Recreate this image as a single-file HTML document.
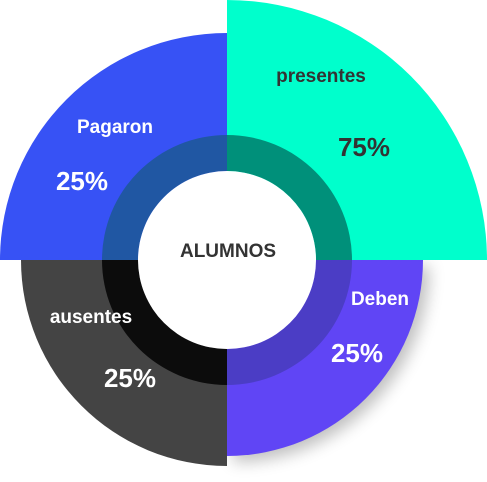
<!DOCTYPE html>
<html><head><meta charset="utf-8"><style>
html,body{margin:0;padding:0;background:#fff;width:487px;height:482px;overflow:hidden}
svg text{font-family:"Liberation Sans",sans-serif;font-weight:bold;text-anchor:middle}
</style></head><body>
<svg id="chart" width="487" height="482" viewBox="0 0 487 482">
<defs><filter id="sh" x="-20%" y="-20%" width="140%" height="140%"><feGaussianBlur stdDeviation="8"/></filter></defs>
<g id="slices"></g>
<circle cx="227" cy="260" r="89" fill="#fff"/>
<text x="228" y="257" font-size="19" fill="#333">ALUMNOS</text>
<g id="labels"></g>
</svg>
<script>
const categories=["presentes","Deben","ausentes","Pagaron"];
const values=[75,25,25,25];
const radii=[260,196,206,227];
const colors=["#00FFCC","#6045F5","#444444","#3752F5"];
const ringColors=["#00907A","#4B3DC5","#0C0C0C","#2057A3"];
const textColors=["#333","#fff","#fff","#fff"];
const nameLabelPos=[[321,82],[380,305],[91,323],[115,133]];
const valueLabelPos=[[364,156],[357,362],[130,387],[82,190]];
const cx=227,cy=260,ns="http://www.w3.org/2000/svg";
function pt(r,a){return [cx+r*Math.sin(a),cy-r*Math.cos(a)];}
function arc(r0,r1,a0,a1){const p0=pt(r1,a0),p1=pt(r1,a1),q1=pt(r0,a1),q0=pt(r0,a0);
 if(r0===0)return `M${cx},${cy}L${p0}A${r1},${r1} 0 0 1 ${p1}Z`;
 return `M${q0}L${p0}A${r1},${r1} 0 0 1 ${p1}L${q1}A${r0},${r0} 0 0 0 ${q0}Z`;}
const g=document.getElementById('slices'),lg=document.getElementById('labels');
const sh=document.createElementNS(ns,'path');
sh.setAttribute('d',arc(0,196,Math.PI/2,Math.PI));
sh.setAttribute('fill','#000');sh.setAttribute('opacity','0.25');sh.setAttribute('filter','url(#sh)');
sh.setAttribute('transform','translate(6,6)');


g.appendChild(sh);
categories.forEach((c,i)=>{
 const a0=i*Math.PI/2,a1=(i+1)*Math.PI/2;
 const p=document.createElementNS(ns,'path');
 p.setAttribute('d',arc(0,radii[i],a0,a1));p.setAttribute('fill',colors[i]);
 
 
 g.appendChild(p);
 const r=document.createElementNS(ns,'path');
 r.setAttribute('d',arc(89,125,a0,a1));r.setAttribute('fill',ringColors[i]);
 
 
 g.appendChild(r);
 const t=document.createElementNS(ns,'text');
 t.setAttribute('x',nameLabelPos[i][0]);t.setAttribute('y',nameLabelPos[i][1]);
 t.setAttribute('font-size','19');t.setAttribute('fill',textColors[i]);t.textContent=c;
 
 
 lg.appendChild(t);
 const v=document.createElementNS(ns,'text');
 v.setAttribute('x',valueLabelPos[i][0]);v.setAttribute('y',valueLabelPos[i][1]);
 v.setAttribute('font-size','26');v.setAttribute('fill',textColors[i]);v.textContent=values[i]+'%';
 
 
 lg.appendChild(v);
});
</script>
</body></html>
